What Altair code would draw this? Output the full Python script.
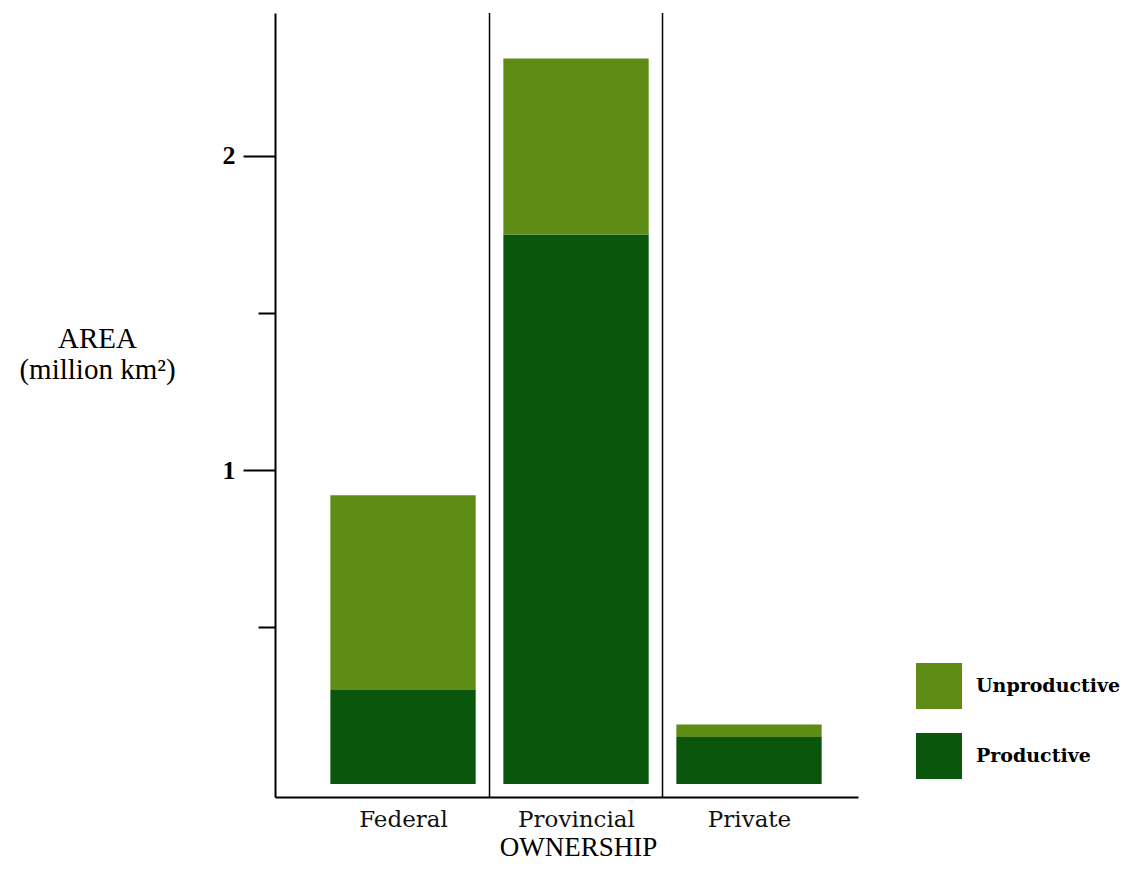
import json
import altair as alt
import pandas as pd

# ---- data ----
categories = ["Federal", "Provincial", "Private"]
positions = [1, 2, 3]
productive = [0.30, 1.75, 0.15]
unproductive = [0.62, 0.56, 0.04]
series_names = ["Unproductive", "Productive"]
series_colors = ["#5e8c14", "#0a560c"]
divider_positions = [1.5, 2.5]
y_tick_values = [0.5, 1, 1.5, 2]
y_labelled = [1, 2]

rows = []
for c, p, pv, uv in zip(categories, positions, productive, unproductive):
    rows.append({"category": c, "pos": p, "series": "Productive", "value": pv, "order": 0})
    rows.append({"category": c, "pos": p, "series": "Unproductive", "value": uv, "order": 1})
df = pd.DataFrame(rows)
div_df = pd.DataFrame({"pos": divider_positions})

W, H = 583, 784
x_scale = alt.Scale(domain=[0.26, 3.63], nice=False, zero=False)
y_scale = alt.Scale(domain=[-0.041, 2.455], nice=False, zero=False)

lab_names = json.dumps([""] + categories)
major_test = " || ".join(f"datum.value == {v}" for v in y_labelled)

x_axis = alt.Axis(
    values=positions,
    labelExpr=f"{lab_names}[datum.value]",
    ticks=False, grid=False,
    domainColor="black", domainWidth=2,
    labelFont="DejaVu Serif", labelFontSize=23, labelColor="#111111",
    labelBaseline="alphabetic", labelPadding=29,
    labelFlush=False, labelOverlap=False,
    title="OWNERSHIP", titleFont="Liberation Serif", titleFontSize=27,
    titleFontWeight="normal", titleColor="black",
    titleX=303, titleY=58, titleAlign="center", titleBaseline="alphabetic",
)

bars = (
    alt.Chart(df)
    .transform_stack(stack="value", groupby=["category"], as_=["y0", "y1"],
                     sort=[alt.SortField("order", "ascending")])
    .transform_calculate(x0="datum.pos - 0.42", x1="datum.pos + 0.42")
    .mark_bar(stroke=None)
    .encode(
        x=alt.X("x0:Q", scale=x_scale, axis=x_axis, title="OWNERSHIP"),
        x2="x1:Q",
        y=alt.Y("y0:Q", scale=y_scale, axis=alt.Axis(
            values=y_tick_values,
            labelExpr=f"({major_test}) ? format(datum.value, 'd') : ''",
            tickSize={"condition": {"test": major_test, "value": 32}, "value": 17},
            tickWidth=2, tickColor="black", grid=False,
            domainColor="black", domainWidth=2,
            labelFont="Liberation Serif", labelFontWeight="bold", labelFontSize=26,
            labelColor="black", labelPadding=8,
            title=["AREA", "(million km²)"], titleAngle=0,
            titleX=-178, titleY=334, titleAlign="center", titleBaseline="alphabetic",
            titleFont="Liberation Serif", titleFontSize=29, titleFontWeight="normal",
            titleLineHeight=31, titleColor="black",
        )),
        y2="y1:Q",
        color=alt.Color("series:N", scale=alt.Scale(domain=series_names, range=series_colors),
                        legend=alt.Legend(
                            title=None, orient="none", legendX=641, legendY=650,
                            symbolType="square", symbolSize=2116, symbolStrokeWidth=0,
                            symbolOpacity=1, padding=0, rowPadding=24, labelOffset=14,
                            labelFont="DejaVu Serif", labelFontWeight="bold",
                            labelFontSize=19, labelColor="black", labelLimit=0,
                        )),
    )
)

dividers = (
    alt.Chart(div_df)
    .mark_rule(color="black", strokeWidth=1.5)
    .encode(x=alt.X("pos:Q", scale=x_scale, axis=x_axis, title="OWNERSHIP"),
            y=alt.value(0), y2=alt.value(H))
)

chart = (
    alt.layer(bars, dividers)
    .properties(width=W, height=H, autosize=alt.AutoSizeParams(type="none"),
                padding={"left": 267, "top": 5, "right": 272, "bottom": 65})
    .configure_view(stroke=None)
    .configure_axis(grid=False)
)

chart.save("out.html", embed_options={"renderer": "svg", "actions": False})
